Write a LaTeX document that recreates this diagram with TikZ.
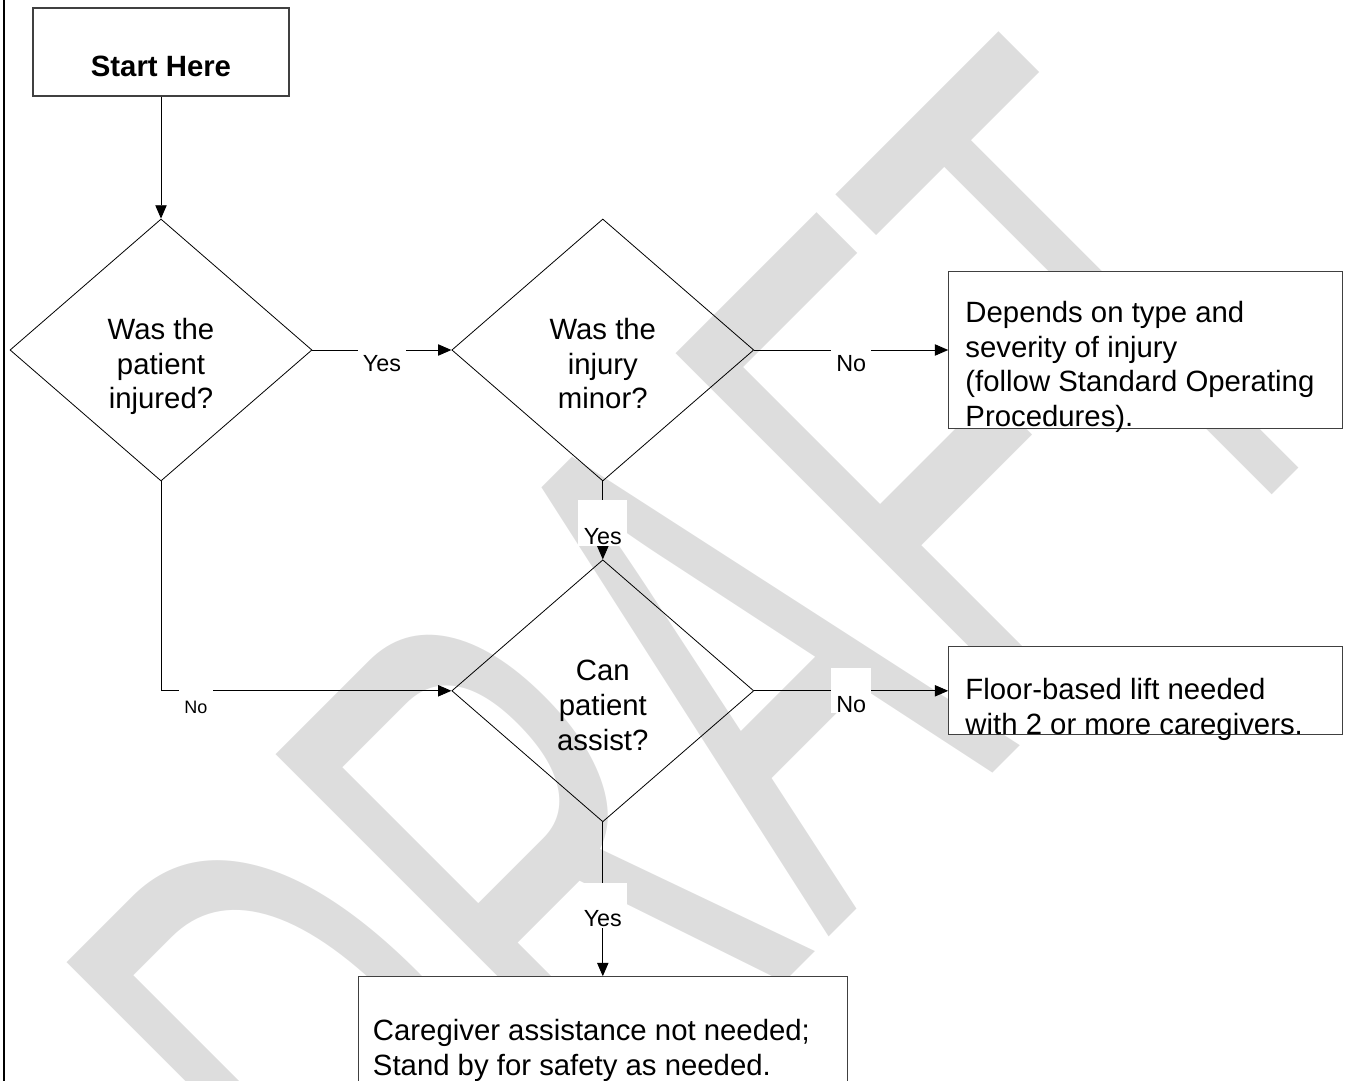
\documentclass[tikz,border=0pt]{standalone}
\usepackage{graphicx}
\usepackage{fontspec}
\setmainfont{Liberation Sans}
\usetikzlibrary{arrows.meta,shapes.geometric,positioning}
\definecolor{wmgray}{HTML}{DDDDDD}

\begin{document}
\begin{tikzpicture}[
    x=0.75pt, y=-0.75pt,
    every node/.style={font=\fontsize{22}{26}\selectfont},
    rbox/.style 2 args={draw=black!75, line width=0.9pt, fill=white, inner sep=0pt,
                minimum width=#1, minimum height=#2},
    question/.style={diamond, draw, line width=0.6pt, inner sep=0pt,
                minimum width=226.5pt, minimum height=196.5pt},
    qtext/.style={align=center, inner sep=0pt, anchor=north},
    btext/.style={align=left, inner sep=0pt, anchor=north west},
    yesno/.style={fill=white, inner xsep=4pt, inner ysep=1pt, text height=32pt,
                text depth=0pt, font=\fontsize{17.5}{20}\selectfont},
    wmark/.style={text=wmgray, rotate=45, inner sep=0pt, text height=406.5pt,
                text depth=0pt, font=\fontsize{306}{306}\selectfont},
    arr/.style={-{Triangle[length=10pt,width=8.5pt]}, line width=0.7pt}
]
\useasboundingbox (0,0) rectangle (1346,1081);
\clip (0,0) rectangle (1346,1081);

\node[wmark] (draft) at (701,682) {\scalebox{1}[1.855]{DRAFT}};
\draw[line width=2pt] (4,0) -- (4,1081);

\node[rbox={192pt}{66pt}, text height=37.5pt, text depth=0pt] (start) at (161,52) {\bfseries Start Here};
\node[question, below=91.5pt of start] (injured) {};
\node[question, right=104.25pt of injured] (minor) {};
\node[question, below=58.5pt of minor] (assist) {};
\node[rbox={295.5pt}{117.75pt}, right=145.5pt of minor] (sop) {};
\node[rbox={295.5pt}{66pt}, right=145.5pt of assist] (lift) {};
\node[rbox={366.75pt}{97.5pt}, below=115.5pt of assist] (standby) {};

\node[qtext] (injuredq) at ([yshift=24pt]injured.center) {Was the\\patient\\injured?};
\node[qtext] (minorq) at ([yshift=24pt]minor.center) {Was the\\injury\\minor?};
\node[qtext] (assistq) at ([yshift=23pt]assist.center) {Can\\patient\\assist?};
\node[btext] (soptxt) at ([xshift=12.75pt,yshift=-22.5pt]sop.north west)
    {Depends on type and\\severity of injury\\(follow Standard Operating\\Procedures).};
\node[btext] (lifttxt) at ([xshift=12.75pt,yshift=-24pt]lift.north west)
    {Floor-based lift needed\\with 2 or more caregivers.};
\node[btext] (standbytxt) at ([xshift=11.25pt,yshift=-32.25pt]standby.north west)
    {Caregiver assistance not needed;\\Stand by for safety as needed.};

\draw[arr] (start) -- (injured);
\draw[arr] (injured) -- node[yesno] (yes1) {Yes} (minor);
\draw[arr] (minor) -- node[yesno] (no1) {No} (sop);
\draw[arr] (minor) -- node[yesno, yshift=-2pt] (yes2) {Yes} (assist);
\draw[arr] (injured) |- node[yesno, pos=0.56, font=\fontsize{13.5}{16}\selectfont,
    text height=33.75pt] (no2) {No} (assist);
\draw[arr] (assist) -- node[yesno] (no3) {No} (lift);
\draw[arr] (assist) -- node[yesno, yshift=-4.5pt] (yes3) {Yes} (standby);
\end{tikzpicture}
\end{document}
